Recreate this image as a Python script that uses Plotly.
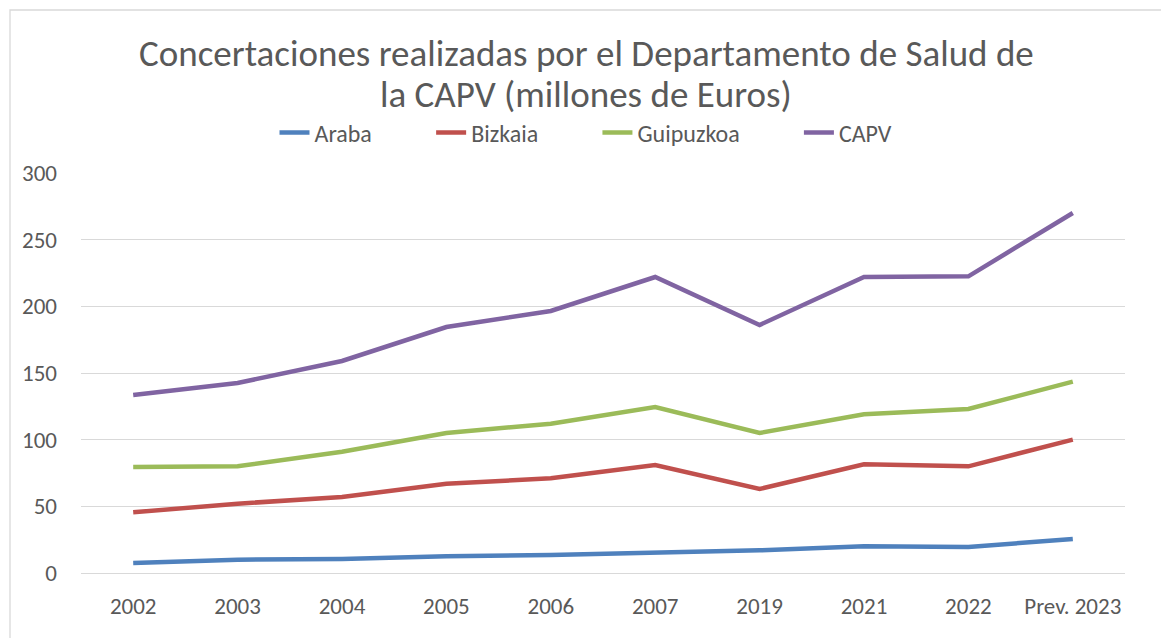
import plotly.graph_objects as go

categories = ["2002", "2003", "2004", "2005", "2006", "2007", "2019", "2021", "2022", "Prev. 2023"]
araba = [7.5, 10, 10.5, 12.5, 13.5, 15.5, 17, 20, 19.5, 25.5]
bizkaia = [45.5, 52, 57, 67, 71, 81, 63, 81.5, 80, 100]
guipuzkoa = [79.5, 80, 91, 105, 112, 124.5, 105, 119, 123, 143.5]
capv = [133.5, 142.5, 159, 184.5, 196.5, 222, 186, 222, 222.5, 270]
y_ticks = [0, 50, 100, 150, 200, 250, 300]
title_lines = ["Concertaciones realizadas por el Departamento de Salud de",
               "la CAPV (millones de Euros)"]

series = [
    ("Araba", araba, "#4F81BD"),
    ("Bizkaia", bizkaia, "#C0504D"),
    ("Guipuzkoa", guipuzkoa, "#9BBB59"),
    ("CAPV", capv, "#8064A2"),
]

FONT = "Carlito, Calibri, 'Liberation Sans Narrow', 'Liberation Sans', sans-serif"
TXT = "#595959"
PAD = "\u00a0" * 10

fig = go.Figure()
for i, (name, vals, col) in enumerate(series):
    label = name + (PAD if i < len(series) - 1 else "")
    fig.add_trace(go.Scatter(x=categories, y=vals, name=label, mode="lines",
                             line=dict(color=col, width=4.5)))

W, H = 1161, 638
ml, mr, mt, mb = 81, 36, 173, 65
pw, ph = W - ml - mr, H - mt - mb

fig.update_layout(
    width=W, height=H,
    margin=dict(l=ml, r=mr, t=mt, b=mb, pad=0),
    paper_bgcolor="white", plot_bgcolor="white",
    font=dict(family=FONT, color=TXT, size=20),
    legend=dict(orientation="h", x=(586 - ml) / pw, xanchor="center", y=(573 - 133) / ph,
                yanchor="middle", font=dict(size=24, color=TXT), bgcolor="rgba(0,0,0,0)",
                tracegroupgap=0),
    xaxis=dict(type="category", range=[-0.5, len(categories) - 0.5],
               showgrid=False, showline=False, zeroline=False,
               ticks="", tickfont=dict(size=23, color=TXT), ticklabelstandoff=17),
    yaxis=dict(range=[0, 300], tickvals=y_ticks, showgrid=True, gridcolor="#D9D9D9",
               gridwidth=1.3, zeroline=True, zerolinecolor="#D9D9D9", zerolinewidth=1.3,
               showline=False, ticks="", tickfont=dict(size=23, color=TXT),
               ticklabelstandoff=23),
    showlegend=True,
)

for i, (txt, yc) in enumerate(zip(title_lines, [54, 94])):
    fig.add_annotation(text=txt, xref="paper", yref="paper",
                       x=(586 - ml) / pw, y=(H - mb - yc) / ph,
                       xanchor="center", yanchor="middle", showarrow=False,
                       font=dict(size=37, color=TXT, family=FONT))

fig.add_shape(type="rect", xref="paper", yref="paper",
              x0=(10 - ml) / pw, x1=1.2, y0=-0.3, y1=(H - mb - 10) / ph,
              line=dict(color="#D9D9D9", width=1.3), fillcolor="rgba(0,0,0,0)", layer="below")

fig.write_html("out.html", config={"displayModeBar": False},
               post_script="document.body.style.margin='0';document.body.style.overflow='hidden';")
